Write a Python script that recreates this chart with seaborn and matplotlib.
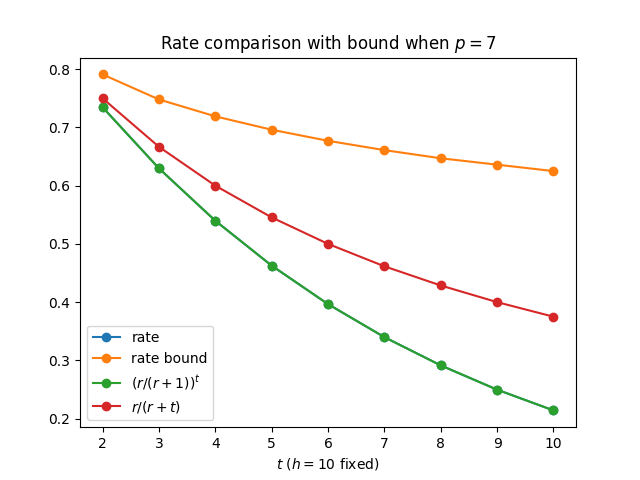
import pandas as pd
import seaborn as sns
import matplotlib
matplotlib.use("Agg")
import matplotlib.pyplot as plt

# t values (h = 10 fixed, p = 7)
t_values = [2, 3, 4, 5, 6, 7, 8, 9, 10]

rate = [0.7347, 0.6297, 0.5398, 0.4627, 0.3966, 0.3399, 0.2914, 0.2497, 0.2141]
rate_bound = [0.791, 0.748, 0.719, 0.696, 0.677, 0.661, 0.647, 0.636, 0.625]
geom_ratio = [0.7347, 0.6297, 0.5398, 0.4627, 0.3966, 0.3399, 0.2914, 0.2497, 0.2141]
linear_ratio = [0.75, 0.6667, 0.6, 0.5455, 0.5, 0.4615, 0.4286, 0.4, 0.375]

df = pd.DataFrame({
    "t": t_values,
    "rate": rate,
    "rate bound": rate_bound,
    "geom": geom_ratio,
    "linear": linear_ratio,
})

series = [
    ("rate", "rate", "C0"),
    ("rate bound", "rate bound", "C1"),
    ("geom", r"$(r/(r+1))^t$", "C2"),
    ("linear", r"$r/(r+t)$", "C3"),
]

fig, ax = plt.subplots(figsize=(6.4, 4.8), dpi=100)

for col, label, color in series:
    sns.lineplot(data=df, x="t", y=col, ax=ax, label=label, color=color,
                 marker="o", markersize=6, markeredgecolor=color,
                 markeredgewidth=1, linewidth=1.5)

ax.set_title("Rate comparison with bound when $p=7$")
ax.set_xlabel("$t$ ($h=10$ fixed)")
ax.set_ylabel("")
ax.legend(loc="lower left")

plt.savefig("out.png")
